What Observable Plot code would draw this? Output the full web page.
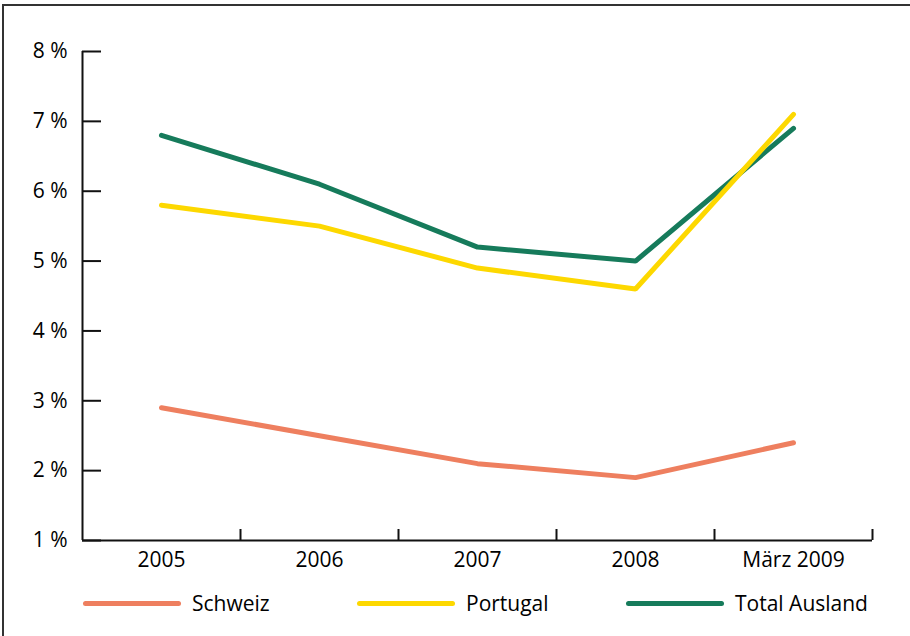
<!DOCTYPE html>
<html>
<head>
<meta charset="utf-8">
<script src="https://cdn.jsdelivr.net/npm/d3@7"></script>
<script src="https://cdn.jsdelivr.net/npm/@observablehq/plot@0.6"></script>
<style>
  html, body { margin: 0; padding: 0; background: #fff; }
  #wrap { position: relative; width: 910px; height: 636px; overflow: hidden; font-family: "Open Sans", sans-serif; }
  #frame { position: absolute; left: 2px; top: 4px; right: -10px; bottom: -10px; border-top: 2px solid #333; border-left: 2px solid #333; }
  #chart { position: absolute; left: 0; top: 0; }
  #chart svg text { font-size: 21px !important; fill: #000; }
  #legend { position: absolute; left: 0; top: 588px; width: 910px; height: 30px; font-size: 21px; color: #000; }
  .item { position: absolute; top: 0; height: 30px; display: flex; align-items: center; }
  .sw { display: inline-block; width: 98px; height: 5px; border-radius: 3px; margin-right: 11px; }
</style>
</head>
<body>
<div id="wrap">
  <div id="frame"></div>
  <div id="chart"></div>
  <div id="legend"></div>
</div>
<script>
const categories = ["2005", "2006", "2007", "2008", "März 2009"];
const schweiz = [2.9, 2.5, 2.1, 1.9, 2.4];
const portugal = [5.8, 5.5, 4.9, 4.6, 7.1];
const totalAusland = [6.8, 6.1, 5.2, 5.0, 6.9];
const seriesNames = ["Schweiz", "Portugal", "Total Ausland"];
const seriesColors = ["#EE7F5F", "#FDD800", "#167B5B"];
const yTicks = [1, 2, 3, 4, 5, 6, 7, 8];
const xBoundaries = [1, 2, 3, 4, 5];

const toRows = (vals) => vals.map((v, i) => ({pos: i + 0.5, value: v}));
const rowsS = toRows(schweiz), rowsP = toRows(portugal), rowsT = toRows(totalAusland);

const W = 910, H = 580;
const mL = 82, mR = 38, mT = 51, mB = H - 540;
const plotH = H - mT - mB, plotW = W - mL - mR;

const lineOpts = (color) => ({x: "pos", y: "value", stroke: color, strokeWidth: 5, strokeLinecap: "round", strokeLinejoin: "miter"});

const chart = Plot.plot({
  width: W, height: H,
  marginLeft: mL, marginRight: mR, marginTop: mT, marginBottom: mB,
  style: {fontFamily: "Open Sans, sans-serif", fontSize: "21px", color: "#000", background: "transparent"},
  x: {type: "linear", domain: [0, 5]},
  y: {type: "linear", domain: [1, 8]},
  marks: [
    Plot.axisY(yTicks, {tickSize: 0, tickPadding: 15, tickFormat: d => `${d} %`, label: null, fontSize: 21, fill: "#000"}),
    Plot.axisX(categories.map((c, i) => i + 0.5), {tickSize: 0, tickPadding: 12, tickFormat: (d) => categories[Math.round(d - 0.5)], label: null, fontSize: 21, fill: "#000"}),
    Plot.tickY(yTicks, {y: d => d, stroke: "#111", strokeWidth: 2, insetRight: plotW - 19}),
    Plot.tickX(xBoundaries, {x: d => d, stroke: "#111", strokeWidth: 2, insetTop: plotH - 11}),
    Plot.ruleX([0], {stroke: "#111", strokeWidth: 2}),
    Plot.ruleY([1], {stroke: "#111", strokeWidth: 2}),
    Plot.line(rowsS, lineOpts(seriesColors[0])),
    Plot.line(rowsT, lineOpts(seriesColors[2])),
    Plot.line(rowsP, lineOpts(seriesColors[1]))
  ]
});
document.getElementById("chart").appendChild(chart);

const legendX = [83, 357, 626];
const legend = document.getElementById("legend");
seriesNames.forEach((name, i) => {
  const item = document.createElement("div");
  item.className = "item";
  item.style.left = legendX[i] + "px";
  const sw = document.createElement("span");
  sw.className = "sw";
  sw.style.background = seriesColors[i];
  item.appendChild(sw);
  item.appendChild(document.createTextNode(name));
  legend.appendChild(item);
});
</script>
</body>
</html>
